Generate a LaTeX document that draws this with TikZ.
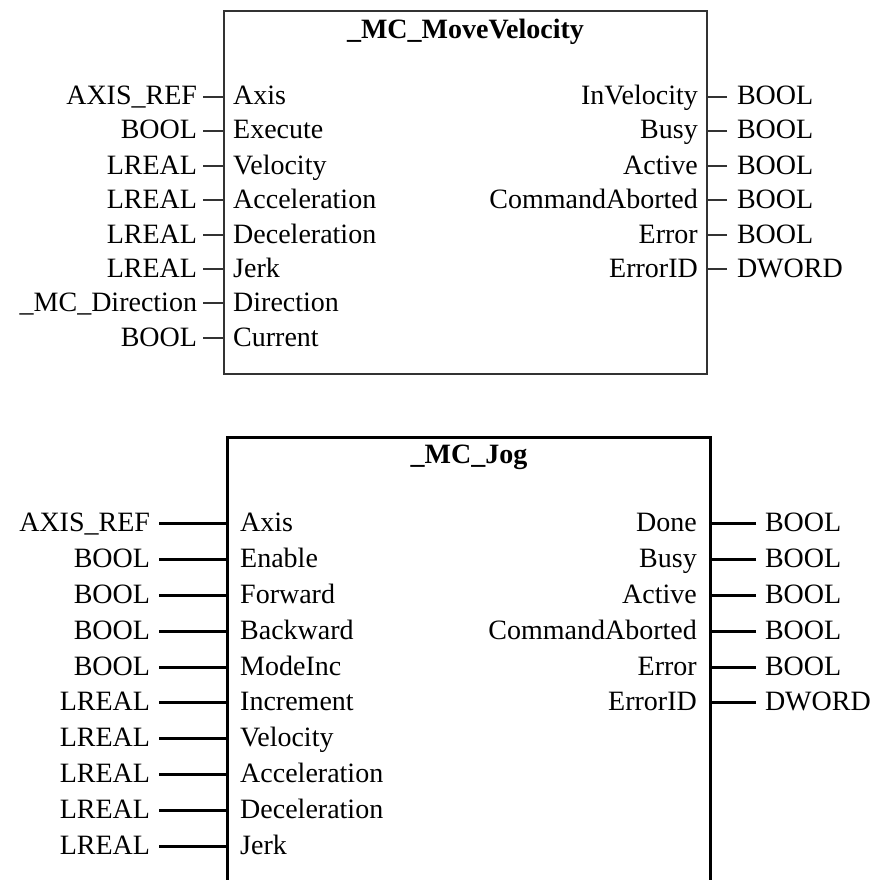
\documentclass[tikz,border=0pt]{standalone}
\usepackage{fontspec}
\setmainfont{Liberation Serif}
\usetikzlibrary{positioning}

\begin{document}
\begin{tikzpicture}[x=1pt,y=-1pt,font=\fontsize{28}{30}\selectfont,
  lbl/.style={inner sep=0pt,text height=16pt,text depth=0pt},
  ttl/.style={lbl,font=\fontsize{28}{30}\selectfont\bfseries},
  fbA/.style={draw=black!80,line width=2pt,inner sep=0pt,outer sep=0pt,anchor=north west},
  fbB/.style={draw=black,line width=3pt,inner sep=0pt,outer sep=0pt,anchor=north west},
  pinA/.style={draw=black!80,line width=2pt},
  pinB/.style={draw=black,line width=3pt}]
  \path[use as bounding box,clip] (0,0) rectangle (872,880);

  % _MC_MoveVelocity
  \node[fbA,minimum width=483pt,minimum height=363pt] (mv) at (224,11) {};
  \node[ttl,below=11pt of mv.north] (mvT) {\_MC\_MoveVelocity};
  \foreach \t/\n [count=\i] in {AXIS\_REF/Axis,BOOL/Execute,LREAL/Velocity,
      LREAL/Acceleration,LREAL/Deceleration,LREAL/Jerk,
      \_MC\_Direction/Direction,BOOL/Current}{
    \pgfmathsetmacro\y{round(97+34.4*(\i-1))}
    \node[lbl,anchor=west] (mvi\i) at (233,\y) {\n};
    \node[lbl,anchor=east,outer sep=6pt] (mvt\i) at (203,\y) {\t};
    \draw[pinA] (mvt\i) -- (mvt\i -| mv.west);
  }
  \foreach \n/\t [count=\i] in {InVelocity/BOOL,Busy/BOOL,Active/BOOL,
      CommandAborted/BOOL,Error/BOOL,ErrorID/DWORD}{
    \pgfmathsetmacro\y{round(97+34.4*(\i-1))}
    \node[lbl,anchor=east] (mvo\i) at (698,\y) {\n};
    \node[lbl,anchor=west,outer sep=10pt] (mvr\i) at (727,\y) {\t};
    \draw[pinA] (mvr\i) -- (mvr\i -| mv.east);
  }

  % _MC_Jog
  \node[fbB,minimum width=483pt,minimum height=480pt] (jg) at (227.5,437.5) {};
  \node[ttl,below=10pt of jg.north] (jgT) {\_MC\_Jog};
  \foreach \t/\n [count=\i] in {AXIS\_REF/Axis,BOOL/Enable,BOOL/Forward,
      BOOL/Backward,BOOL/ModeInc,LREAL/Increment,LREAL/Velocity,
      LREAL/Acceleration,LREAL/Deceleration,LREAL/Jerk}{
    \pgfmathsetmacro\y{round(523+35.9*(\i-1))+0.5}
    \node[lbl,anchor=west] (jgi\i) at (240,\y) {\n};
    \node[lbl,anchor=east,outer sep=9pt] (jgt\i) at (159,\y) {\t};
    \draw[pinB] (jgt\i) -- (jgt\i -| jg.west);
  }
  \foreach \n/\t [count=\i] in {Done/BOOL,Busy/BOOL,Active/BOOL,
      CommandAborted/BOOL,Error/BOOL,ErrorID/DWORD}{
    \pgfmathsetmacro\y{round(523+35.9*(\i-1))+0.5}
    \node[lbl,anchor=east] (jgo\i) at (697,\y) {\n};
    \node[lbl,anchor=west,outer sep=9pt] (jgr\i) at (756,\y) {\t};
    \draw[pinB] (jgr\i) -- (jgr\i -| jg.east);
  }
\end{tikzpicture}
\end{document}
